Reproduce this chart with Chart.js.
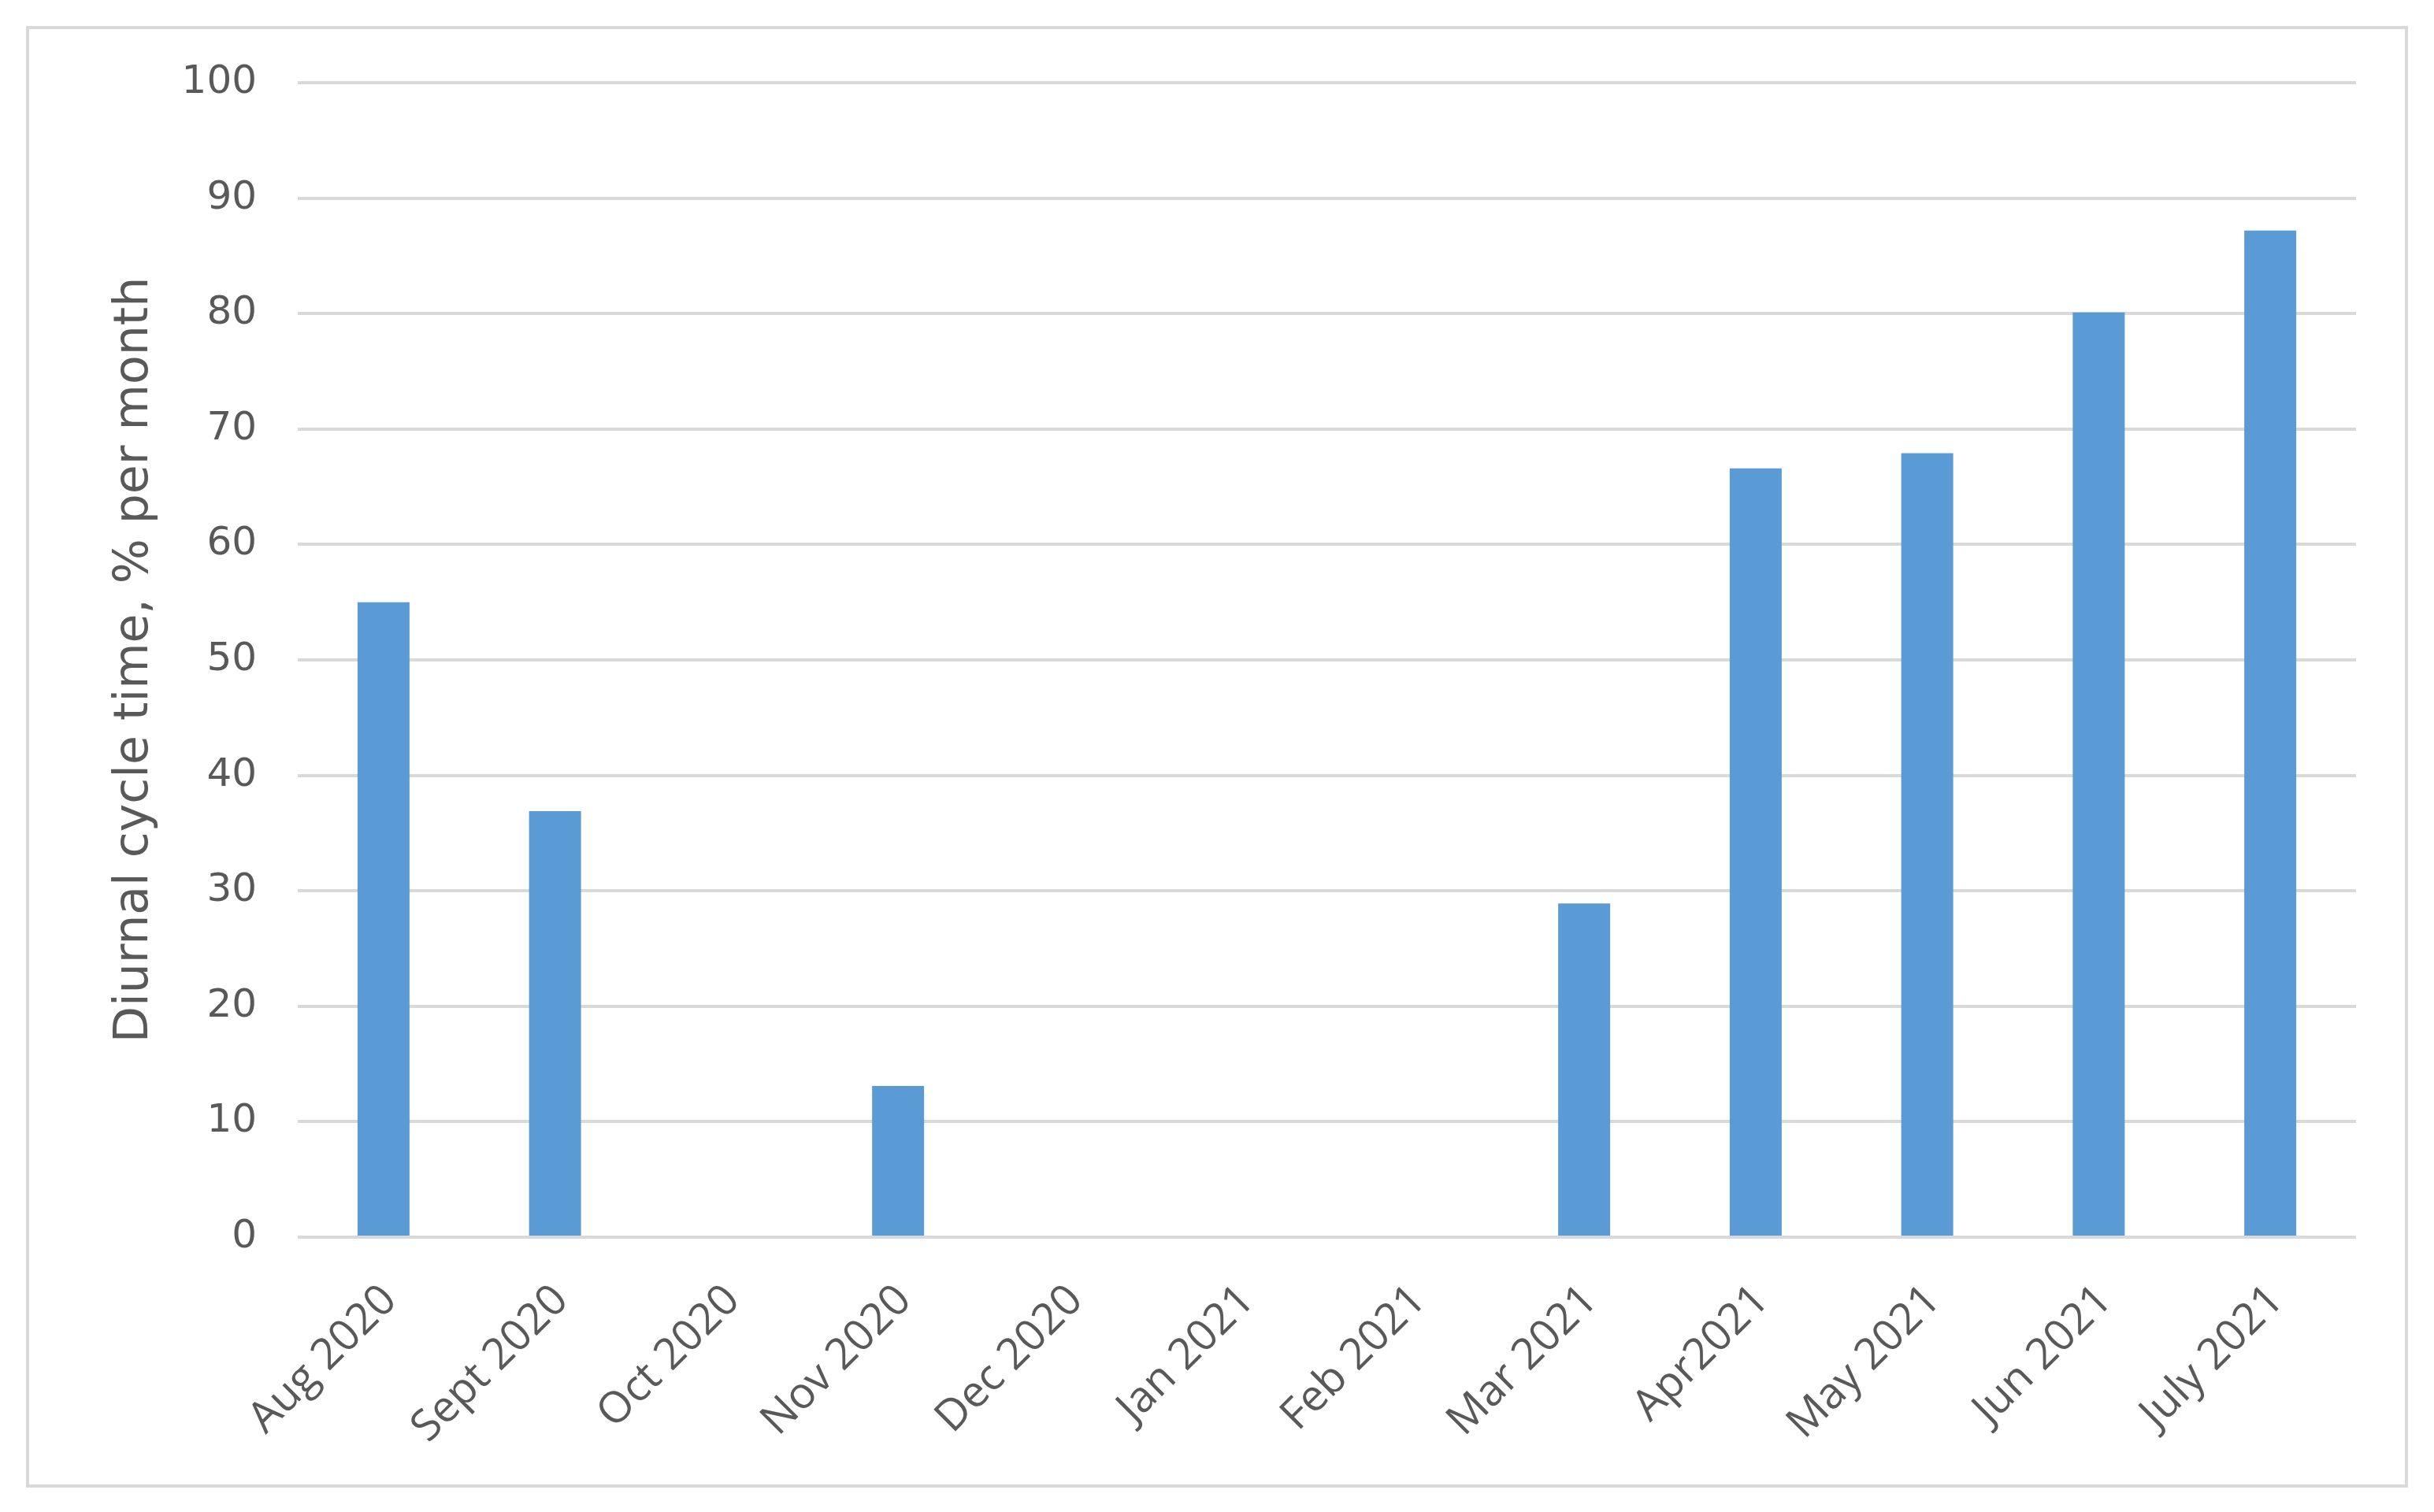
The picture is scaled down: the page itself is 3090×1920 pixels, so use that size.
<!DOCTYPE html>
<html lang="en">
<head>
<meta charset="UTF-8">
<title>Diurnal cycle time per month</title>
<script src="https://cdn.jsdelivr.net/npm/chart.js@4.4.0/dist/chart.umd.min.js"></script>
<style>
  html, body { margin: 0; padding: 0; background: #ffffff; }
  body { width: 3090px; height: 1920px; position: relative; overflow: hidden; }
  #frame {
    position: absolute; left: 33px; top: 33px;
    width: 3024px; height: 1856px;
    box-sizing: border-box; border: 4px solid #d9d9d9;
  }
  #wrap { position: absolute; left: 0; top: 0; width: 3016px; height: 1848px; }
</style>
</head>
<body>
<div id="frame">
  <div id="wrap"><canvas id="cycle_chart"></canvas></div>
</div>
<script>
// months on the x axis
var months = ['Aug 2020', 'Sept 2020', 'Oct 2020', 'Nov 2020', 'Dec 2020', 'Jan 2021',
              'Feb 2021', 'Mar 2021', 'Apr2021', 'May 2021', 'Jun 2021', 'July 2021'];
// diurnal cycle time, % per month
var cycleTime = [55, 36.9, 0, 13.1, 0, 0, 0, 28.9, 66.6, 67.9, 80.1, 87.2];
var yTicks = [0, 10, 20, 30, 40, 50, 60, 70, 80, 90, 100];

var ctx = document.getElementById('cycle_chart');

window.cycleChart = new Chart(ctx, {
  type: 'bar',
  data: {
    labels: months,
    datasets: [{
      label: 'Diurnal cycle time',
      data: cycleTime,
      backgroundColor: '#5b9bd5',
      borderWidth: 0,
      barPercentage: 0.303,
      categoryPercentage: 1.0
    }]
  },
  options: {
    responsive: true,
    maintainAspectRatio: false,
    animation: false,
    layout: { padding: { left: 0, right: 62, top: 68, bottom: 0 } },
    plugins: {
      legend: { display: false },
      tooltip: { enabled: false }
    },
    scales: {
      x: {
        grid: { display: false },
        border: { display: false },
        ticks: {
          color: '#595959',
          font: { family: '"Open Sans"', size: 55 },
          maxRotation: 45,
          minRotation: 45,
          autoSkip: false,
          labelOffset: 8,
          padding: 40
        },
        afterFit: function (scale) { scale.height = 314; }
      },
      y: {
        min: 0,
        max: 100,
        afterBuildTicks: function (scale) {
          scale.ticks = yTicks.map(function (v) { return { value: v }; });
        },
        grid: { color: '#d9d9d9', lineWidth: 4, drawTicks: false },
        border: { display: false },
        ticks: {
          color: '#595959',
          font: { family: '"DejaVu Sans"', size: 50 },
          padding: 52
        },
        title: {
          display: true,
          text: 'Diurnal cycle time, % per month',
          color: '#595959',
          font: { family: '"DejaVu Sans"', size: 60, weight: 'normal' },
          padding: { top: 98, bottom: 0 }
        },
        afterFit: function (scale) {
          scale.width = 341;
          // let the layout padding alone decide where the plot starts
          scale.paddingTop = 0;
          scale.paddingBottom = 0;
        }
      }
    }
  }
});
</script>
</body>
</html>
